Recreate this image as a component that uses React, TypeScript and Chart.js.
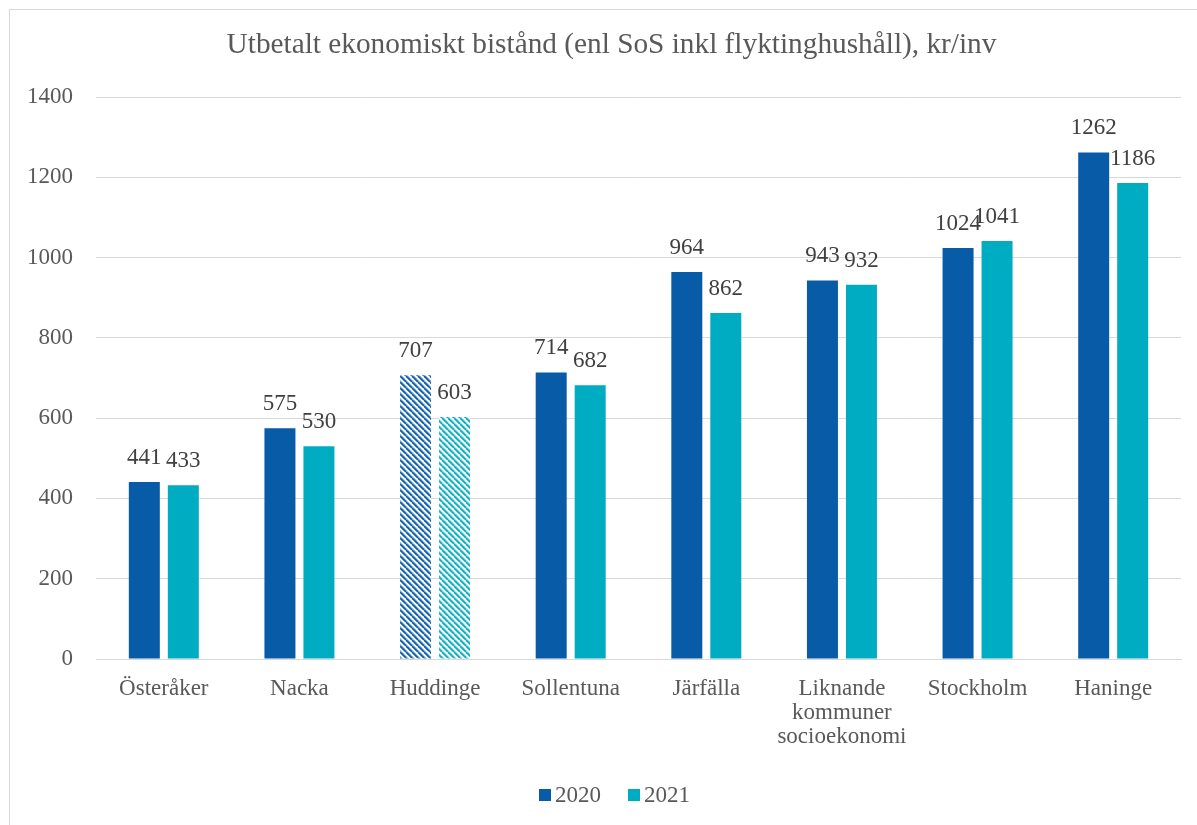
import React, { useEffect, useRef } from "react";
import { Chart, registerables } from "chart.js";

Chart.register(...registerables);

const categories: (string | string[])[] = [
  "Österåker",
  "Nacka",
  "Huddinge",
  "Sollentuna",
  "Järfälla",
  ["Liknande", "kommuner", "socioekonomi"],
  "Stockholm",
  "Haninge",
];
const values2020 = [441, 575, 707, 714, 964, 943, 1024, 1262];
const values2021 = [433, 530, 603, 682, 862, 932, 1041, 1186];
const seriesNames = ["2020", "2021"];
const hatchedIndex = 2;
const titleText = "Utbetalt ekonomiskt bistånd (enl SoS inkl flyktinghushåll), kr/inv";

const COLOR_2020 = "#075BA7";
const COLOR_2021 = "#00ACC1";
const FONT = "'Liberation Serif', 'Times New Roman', serif";
const TEXT = "#595959";

function makePattern(dark: string, light: string): CanvasPattern | string {
  const c = document.createElement("canvas");
  const s = 6;
  c.width = s;
  c.height = s;
  const g = c.getContext("2d");
  if (!g) return dark;
  g.fillStyle = "#ffffff";
  g.fillRect(0, 0, s, s);
  const drawDiag = (color: string, w: number, off: number) => {
    g.strokeStyle = color;
    g.lineWidth = w;
    for (let k = -2; k <= 2; k++) {
      g.beginPath();
      g.moveTo(k * s + off, 0);
      g.lineTo(k * s + off + s, s);
      g.stroke();
    }
  };
  drawDiag(light, 1.2, 1.5);
  drawDiag(dark, 1.6, 0);
  const p = g.createPattern(c, "repeat");
  return p || dark;
}

const dataLabelPlugin = {
  id: "valueLabels",
  afterDatasetsDraw(chart: any) {
    const ctx = chart.ctx;
    ctx.save();
    ctx.font = `23px ${FONT}`;
    ctx.fillStyle = "#404040";
    ctx.textAlign = "center";
    ctx.textBaseline = "alphabetic";
    chart.data.datasets.forEach((ds: any, di: number) => {
      const meta = chart.getDatasetMeta(di);
      meta.data.forEach((el: any, i: number) => {
        ctx.fillText(String(ds.data[i]), el.x, el.y - 18);
      });
    });
    ctx.restore();
  },
};

const LEGEND_COLORS = [COLOR_2020, COLOR_2021];

const legendPlugin = {
  id: "customLegend",
  afterDraw(chart: any) {
    const ctx = chart.ctx;
    ctx.save();
    ctx.font = `23px ${FONT}`;
    ctx.textBaseline = "middle";
    ctx.textAlign = "left";
    const box = 12;
    const gapText = 4;
    const gapItem = 27;
    const widths = seriesNames.map((n) => ctx.measureText(n).width);
    const total =
      widths.reduce((a, w) => a + box + gapText + w, 0) +
      gapItem * (seriesNames.length - 1);
    const cx = (chart.chartArea.left + chart.chartArea.right) / 2 - 24;
    const cy = chart.height - 30;
    let x = cx - total / 2;
    seriesNames.forEach((n, i) => {
      ctx.fillStyle = LEGEND_COLORS[i];
      ctx.fillRect(x, cy - box / 2, box, box);
      x += box + gapText;
      ctx.fillStyle = TEXT;
      ctx.fillText(n, x, cy + 1);
      x += widths[i] + gapItem;
    });
    ctx.restore();
  },
};

const titlePlugin = {
  id: "customTitle",
  afterDraw(chart: any) {
    const ctx = chart.ctx;
    ctx.save();
    ctx.font = `29.3px ${FONT}`;
    ctx.fillStyle = TEXT;
    ctx.textAlign = "center";
    ctx.textBaseline = "middle";
    const cx = (chart.chartArea.left + chart.chartArea.right) / 2 - 27;
    ctx.fillText(titleText, cx, 35);
    ctx.restore();
  },
};

export default function App() {
  const ref = useRef<HTMLCanvasElement>(null);
  useEffect(() => {
    if (!ref.current) return;
    const pat2020 = makePattern(COLOR_2020, "#7fa8d6");
    const pat2021 = makePattern(COLOR_2021, "#8fd8e2");
    const chart = new Chart(ref.current, {
      type: "bar",
      data: {
        labels: categories,
        datasets: [
          {
            label: seriesNames[0],
            data: values2020,
            backgroundColor: (c: any) =>
              c.dataIndex === hatchedIndex ? pat2020 : COLOR_2020,
            borderWidth: 0,
            categoryPercentage: 0.575,
            barPercentage: 0.795,
          },
          {
            label: seriesNames[1],
            data: values2021,
            backgroundColor: (c: any) =>
              c.dataIndex === hatchedIndex ? pat2021 : COLOR_2021,
            borderWidth: 0,
            categoryPercentage: 0.575,
            barPercentage: 0.795,
          },
        ],
      },
      plugins: [dataLabelPlugin, legendPlugin, titlePlugin],
      options: {
        animation: false,
        responsive: false,
        maintainAspectRatio: false,
        layout: { padding: { left: 0, right: 16, top: 87, bottom: 0 } },
        plugins: {
          title: { display: false },
          legend: { display: false },
          tooltip: { enabled: false },
        },
        scales: {
          x: {
            grid: { display: false, drawTicks: false },
            border: { display: true, color: "#d9d9d9", width: 1 },
            ticks: {
              color: TEXT,
              font: { family: FONT, size: 23, lineHeight: 1.05 },
              padding: 18,
              maxRotation: 0,
              autoSkip: false,
            },
            afterFit: (s: any) => {
              s.height = 166;
            },
          },
          y: {
            min: 0,
            max: 1400,
            grid: { color: "#d9d9d9", lineWidth: 1, drawTicks: false },
            border: { display: false },
            ticks: {
              stepSize: 200,
              color: TEXT,
              font: { family: FONT, size: 23 },
              padding: 23,
              callback: (v: any) => String(v),
            },
            afterFit: (s: any) => {
              s.width = 86;
            },
          },
        },
      },
    } as any);
    return () => chart.destroy();
  }, []);
  return (
    <div
      style={{
        position: "absolute",
        left: 9,
        top: 9,
        width: 1188,
        height: 816,
        borderLeft: "1px solid #d9d9d9",
        borderTop: "1px solid #d9d9d9",
        background: "#fff",
        overflow: "hidden",
      }}
    >
      <canvas ref={ref} width={1187} height={815} style={{ display: "block" }} />
    </div>
  );
}
